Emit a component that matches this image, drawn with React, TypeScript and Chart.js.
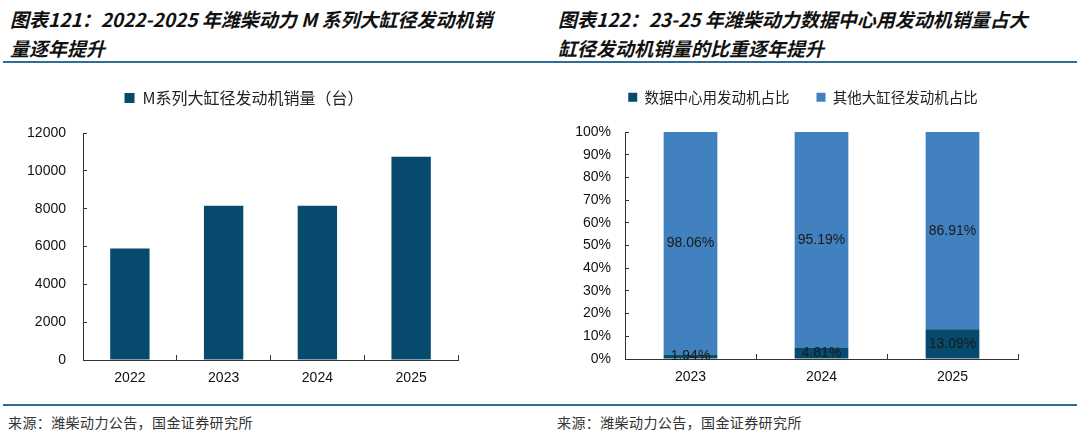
import { useEffect, useRef } from "react"
import { Chart, registerables, type ChartConfiguration, type Plugin } from "chart.js"

Chart.register(...registerables)

// 左图：M系列大缸径发动机销量
const salesYears = ["2022", "2023", "2024", "2025"]
const salesValues = [5900, 8150, 8150, 10750]
const salesLabel = "M系列大缸径发动机销量（台）"

// 右图：数据中心用发动机占比
const shareYears = ["2023", "2024", "2025"]
const dataCenterShare = [1.94, 4.81, 13.09]
const otherShare = [98.06, 95.19, 86.91]
const shareLabels = ["数据中心用发动机占比", "其他大缸径发动机占比"]

const sourceText = "来源：潍柴动力公告，国金证券研究所"

const DARK = "#064a6e"
const LIGHT = "#4281bf"
const AXIS = "#333333"
const RULE = "#2d6d9b"
const NUM_FONT = "'Liberation Sans', Arial, sans-serif"
const CJK_FONT = "'Noto Sans CJK SC', sans-serif"

// 图例高度固定、可水平平移，方便和原图对齐
const legendSpace: Plugin = {
  id: "legendSpace",
  beforeLayout(chart, _args, opts: any) {
    const legend: any = (chart as any).legend
    if (!legend || legend._spaced) return
    const fit = legend.fit.bind(legend)
    legend.fit = () => {
      fit()
      legend.height = opts.height
    }
    legend._spaced = true
  },
  afterLayout(chart, _args, opts: any) {
    const legend: any = (chart as any).legend
    if (!legend || !opts.dx) return
    legend.left += opts.dx
    legend.right += opts.dx
  },
}

// 柱子中间的百分比标签
const barValueLabels: Plugin = {
  id: "barValueLabels",
  afterDatasetsDraw(chart) {
    const { ctx } = chart
    ctx.save()
    ctx.font = `14px ${NUM_FONT}`
    ctx.fillStyle = "#1a1a1a"
    ctx.textAlign = "center"
    ctx.textBaseline = "middle"
    chart.data.datasets.forEach((ds, i) => {
      chart.getDatasetMeta(i).data.forEach((bar, j) => {
        const { x, y } = bar.getCenterPoint()
        ctx.fillText(`${(ds.data[j] as number).toFixed(2)}%`, x, y)
      })
    })
    ctx.restore()
  },
}

function axisGrid() {
  return { display: true, drawOnChartArea: false, drawTicks: true, tickLength: -5, color: AXIS }
}

interface ChartBoxProps {
  config: ChartConfiguration
  left: number
  top: number
  width: number
  height: number
}

function ChartBox({ config, left, top, width, height }: ChartBoxProps) {
  const canvasRef = useRef<HTMLCanvasElement>(null)

  useEffect(() => {
    if (!canvasRef.current) return
    const chart = new Chart(canvasRef.current, config)
    return () => chart.destroy()
  }, [config])

  return (
    <div style={{ position: "absolute", left, top, width, height }}>
      <canvas ref={canvasRef} />
    </div>
  )
}

const salesConfig: ChartConfiguration = {
  type: "bar",
  data: {
    labels: salesYears,
    datasets: [
      {
        label: salesLabel,
        data: salesValues,
        backgroundColor: DARK,
        barPercentage: 0.42,
        categoryPercentage: 1,
      },
    ],
  },
  options: {
    animation: false,
    responsive: true,
    maintainAspectRatio: false,
    layout: { padding: { left: 0, right: 30, top: 0, bottom: 0 } },
    plugins: {
      legend: {
        position: "top",
        labels: {
          boxWidth: 10,
          boxHeight: 10,
          padding: 10,
          color: "#222",
          font: { family: CJK_FONT, size: 16 },
        },
      },
      tooltip: { enabled: false },
      legendSpace: { height: 53, dx: 15 },
    } as any,
    scales: {
      x: {
        grid: axisGrid(),
        border: { display: true, color: AXIS, width: 1 },
        ticks: { color: "#111", padding: 15, font: { family: NUM_FONT, size: 14 } },
        afterFit: (s) => {
          s.height = 40
        },
      },
      y: {
        min: 0,
        max: 12000,
        grid: { ...axisGrid(), tickLength: -4 },
        border: { display: true, color: AXIS, width: 1 },
        ticks: {
          stepSize: 2000,
          color: "#111",
          padding: 21,
          font: { family: NUM_FONT, size: 14 },
          callback: (v) => String(v),
        },
        afterFit: (s) => {
          s.width = 83
        },
      },
    },
  },
  plugins: [legendSpace],
}

const shareConfig: ChartConfiguration = {
  type: "bar",
  data: {
    labels: shareYears,
    datasets: [
      {
        label: shareLabels[0],
        data: dataCenterShare,
        backgroundColor: DARK,
        barPercentage: 0.41,
        categoryPercentage: 1,
      },
      {
        label: shareLabels[1],
        data: otherShare,
        backgroundColor: LIGHT,
        barPercentage: 0.41,
        categoryPercentage: 1,
      },
    ],
  },
  options: {
    animation: false,
    responsive: true,
    maintainAspectRatio: false,
    layout: { padding: { left: 0, right: 49, top: 0, bottom: 0 } },
    plugins: {
      legend: {
        position: "top",
        labels: {
          boxWidth: 9,
          boxHeight: 9,
          padding: 27,
          color: "#222",
          font: { family: CJK_FONT, size: 14.5 },
        },
      },
      tooltip: { enabled: false },
      legendSpace: { height: 69, dx: 24 },
    } as any,
    scales: {
      x: {
        stacked: true,
        grid: axisGrid(),
        border: { display: true, color: AXIS, width: 1 },
        ticks: { color: "#111", padding: 15, font: { family: NUM_FONT, size: 14 } },
        afterFit: (s) => {
          s.height = 41
        },
      },
      y: {
        stacked: true,
        min: 0,
        max: 100,
        grid: { ...axisGrid(), tickLength: -4 },
        border: { display: true, color: AXIS, width: 1 },
        ticks: {
          stepSize: 10,
          color: "#111",
          padding: 18,
          font: { family: NUM_FONT, size: 14 },
          callback: (v) => `${v}%`,
        },
        afterFit: (s) => {
          s.width = 85
        },
      },
    },
  },
  plugins: [legendSpace, barValueLabels],
}

const titleStyle: React.CSSProperties = {
  position: "absolute",
  top: 4,
  fontFamily: CJK_FONT,
  fontWeight: 700,
  fontStyle: "italic",
  fontSize: 19,
  lineHeight: "29px",
  color: "#111",
  whiteSpace: "nowrap",
}

const sourceStyle: React.CSSProperties = {
  position: "absolute",
  top: 412,
  fontFamily: CJK_FONT,
  fontSize: 14,
  lineHeight: "20px",
  letterSpacing: 0.4,
  color: "#333",
  whiteSpace: "nowrap",
}

export default function App() {
  return (
    <div
      style={{
        position: "absolute",
        left: 0,
        top: 0,
        width: 1080,
        height: 437,
        background: "#fff",
        overflow: "hidden",
      }}
    >
      <div style={{ ...titleStyle, left: 10 }}>
        图表121：2022-2025 年潍柴动力 M 系列大缸径发动机销
        <br />
        量逐年提升
      </div>
      <div style={{ ...titleStyle, left: 558 }}>
        图表122：23-25 年潍柴动力数据中心用发动机销量占大
        <br />
        缸径发动机销量的比重逐年提升
      </div>
      <div style={{ position: "absolute", left: 3, top: 61, width: 1074, height: 2, background: RULE }} />

      <ChartBox config={salesConfig} left={0} top={80} width={488} height={320} />
      <ChartBox config={shareConfig} left={540} top={63} width={527} height={337} />

      <div style={{ position: "absolute", left: 3, top: 404, width: 1074, height: 2, background: RULE }} />
      <div style={{ ...sourceStyle, left: 8 }}>{sourceText}</div>
      <div style={{ ...sourceStyle, left: 557 }}>{sourceText}</div>
    </div>
  )
}
